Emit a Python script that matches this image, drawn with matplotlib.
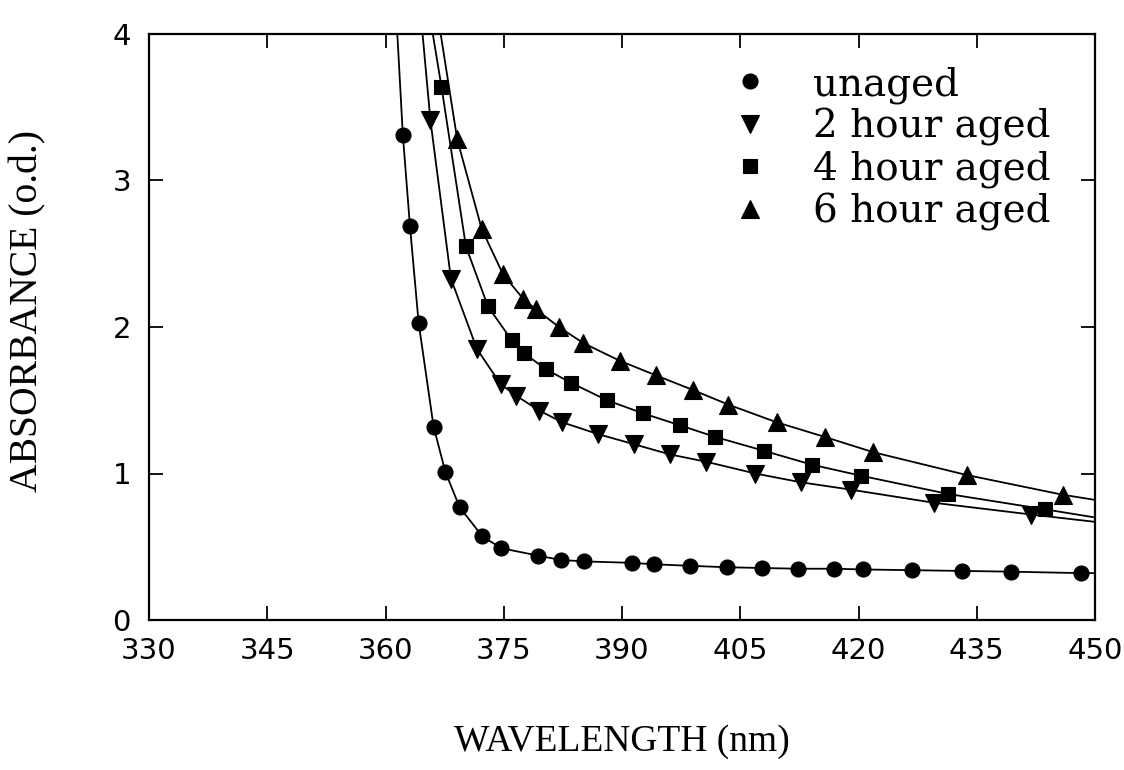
import matplotlib
matplotlib.use("Agg")
import matplotlib.pyplot as plt

# ---------------- data ----------------
unaged_x = [362.2, 363.1, 364.2, 366.1, 367.6, 369.4, 372.3, 374.7, 379.3, 382.2,
            385.2, 391.3, 394.1, 398.6, 403.3, 407.8, 412.3, 416.9, 420.6, 426.8,
            433.1, 439.3, 448.2]
unaged_y = [3.31, 2.69, 2.03, 1.32, 1.01, 0.77, 0.57, 0.49, 0.44, 0.41,
            0.40, 0.39, 0.38, 0.37, 0.36, 0.355, 0.35, 0.35, 0.345, 0.34,
            0.335, 0.33, 0.32]

h2_x = [365.7, 368.3, 371.6, 374.6, 376.6, 379.5, 382.4, 386.9, 391.5, 396.1,
        400.7, 406.9, 412.7, 419.0, 429.6, 441.9]
h2_y = [3.41, 2.33, 1.85, 1.61, 1.53, 1.43, 1.35, 1.27, 1.20, 1.13,
        1.08, 1.00, 0.94, 0.89, 0.80, 0.72]

h4_x = [367.1, 370.2, 373.0, 376.0, 377.6, 380.4, 383.5, 388.1, 392.7, 397.3,
        401.8, 408.0, 414.1, 420.3, 431.4, 443.7]
h4_y = [3.64, 2.55, 2.14, 1.91, 1.82, 1.71, 1.62, 1.50, 1.41, 1.33,
        1.25, 1.155, 1.06, 0.985, 0.86, 0.755]

h6_x = [369.1, 372.2, 374.9, 377.5, 379.1, 382.0, 385.1, 389.7, 394.3, 399.0,
        403.5, 409.6, 415.7, 421.9, 433.7, 445.9]
h6_y = [3.28, 2.67, 2.36, 2.19, 2.12, 2.00, 1.89, 1.77, 1.67, 1.57,
        1.47, 1.35, 1.25, 1.145, 0.99, 0.855]

# where each fitted curve leaves the frame (top edge, right edge)
top_x = [361.5, 364.7, 366.0, 367.0]
right_y = [0.32, 0.67, 0.70, 0.82]

labels = ["unaged", "2 hour aged", "4 hour aged", "6 hour aged"]
x_ticks = [330, 345, 360, 375, 390, 405, 420, 435, 450]
y_ticks = [0, 1, 2, 3, 4]

# ---------------- fonts ----------------
tick_font = "DejaVu Sans"
label_font = "Liberation Serif"
legend_font = "DejaVu Serif"

W, H = 1124, 770
fig = plt.figure(figsize=(W / 100, H / 100), dpi=100)
ax_l, ax_r, ax_t, ax_b = 149, 1095, 34, 620
ax = fig.add_axes([ax_l / W, (H - ax_b) / H, (ax_r - ax_l) / W, (ax_b - ax_t) / H])

series = [(unaged_x, unaged_y, "o", 10.8),
          (h2_x, h2_y, "v", 12.5),
          (h4_x, h4_y, "s", 9.8),
          (h6_x, h6_y, "^", 12.5)]

for i, (xs, ys, mk, ms) in enumerate(series):
    lx = [top_x[i]] + list(xs) + [450]
    ly = [4.0] + list(ys) + [right_y[i]]
    ax.plot(lx, ly, "-", color="black", lw=1.3, zorder=2)
    ax.plot(xs, ys, linestyle="none", marker=mk, ms=ms, color="black",
            mec="black", mew=0.8, zorder=3, label=labels[i])

ax.set_xlim(330, 450)
ax.set_ylim(0, 4)
ax.set_xticks(x_ticks)
ax.set_yticks(y_ticks)
ax.set_xticklabels([str(v) for v in x_ticks], fontfamily=tick_font, fontsize=21)
ax.set_yticklabels([str(v) for v in y_ticks], fontfamily=tick_font, fontsize=21)
ax.tick_params(direction="in", length=10, width=1.3, top=True, right=True,
               color="black")
ax.tick_params(axis="x", pad=12)
ax.tick_params(axis="y", pad=13)
for s in ax.spines.values():
    s.set_linewidth(1.6)

ax.set_xlabel("WAVELENGTH (nm)", fontfamily=label_font, fontsize=27, labelpad=43)
ax.set_ylabel("ABSORBANCE (o.d.)", fontfamily=label_font, fontsize=28.5)
ax.yaxis.set_label_coords(-0.108, 0.527)

leg = fig.legend(*ax.get_legend_handles_labels(), loc="upper left",
                 bbox_to_anchor=(731 / W, (H - 66) / H), frameon=False,
                 prop={"family": legend_font, "size": 28}, markerscale=1.0,
                 handlelength=1.0, handletextpad=1.12, labelspacing=0.12,
                 borderpad=0.0, borderaxespad=0.0)

fig.savefig("out.png", dpi=100, facecolor="white")
